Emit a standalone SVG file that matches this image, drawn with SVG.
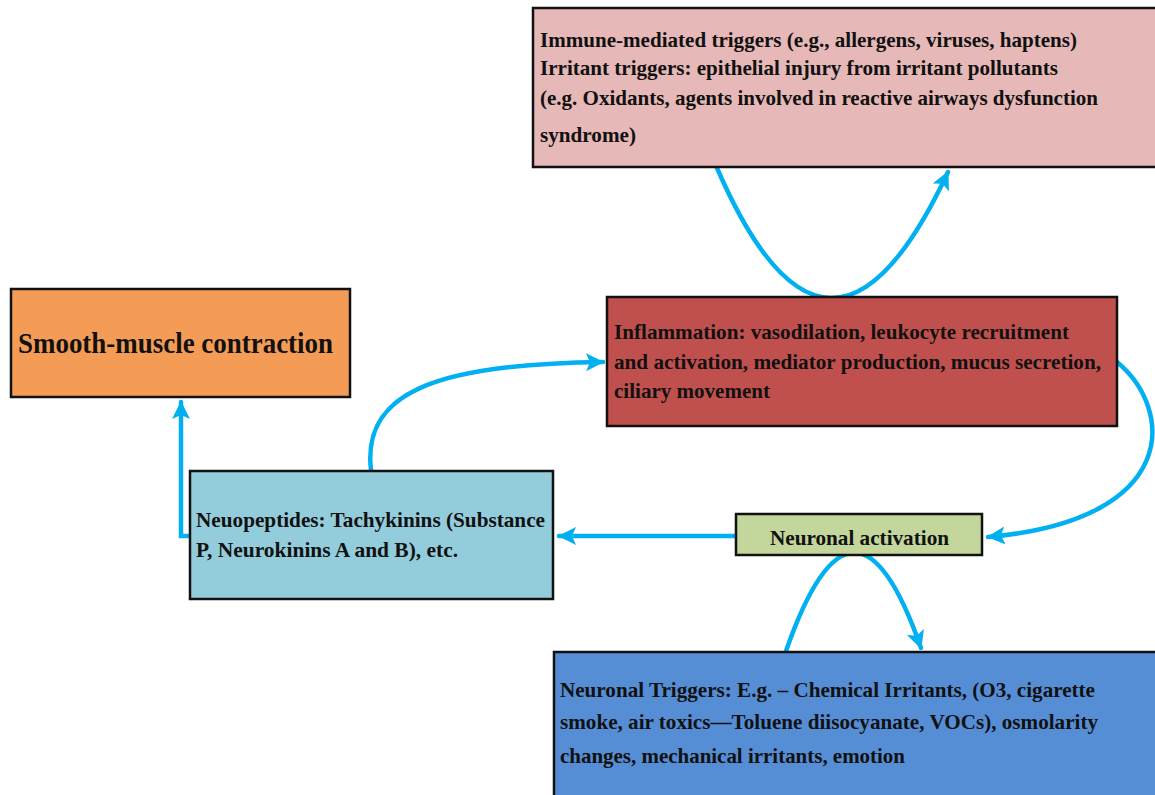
<svg xmlns="http://www.w3.org/2000/svg" width="1155" height="795" viewBox="0 0 1155 795">
<style>
.box{stroke:#111;stroke-width:2.5}
.t{font-family:"Liberation Serif","Times New Roman",serif;font-weight:bold;font-size:22px;fill:#111}
.big{font-size:30px}
.c{fill:none;stroke:#00B0F0;stroke-width:4.5;stroke-linecap:round}
</style>
<defs>
<marker id="ah" markerUnits="userSpaceOnUse" markerWidth="22" markerHeight="22" refX="17" refY="9" orient="auto">
<path d="M0,0 L18,9 L0,18 L4,9 Z" fill="#00B0F0"/>
</marker>
</defs>
<rect width="1155" height="795" fill="#FFFFFF"/>
<g id="connectors">
<path class="c" d="M717,168 Q829,426 948,172" marker-end="url(#ah)"/>
<path class="c" d="M371,470 C362,395 430,364 603,362" marker-end="url(#ah)"/>
<path class="c" d="M1117,362 C1175,410 1180,520 988,537" marker-end="url(#ah)"/>
<path class="c" d="M736,536 L559,536" marker-end="url(#ah)"/>
<path class="c" d="M190,536 L181,536 L181,402" marker-end="url(#ah)"/>
<path class="c" d="M786,651 Q854,456 921,648" marker-end="url(#ah)"/>
</g>
<g id="immune-triggers">
<rect class="box" x="533" y="8" width="640" height="159" fill="#E6B8B7"/>
<text class="t" x="540" y="47" textLength="537" lengthAdjust="spacingAndGlyphs">Immune-mediated triggers (e.g., allergens, viruses, haptens)</text>
<text class="t" x="540" y="75" textLength="518" lengthAdjust="spacingAndGlyphs">Irritant triggers: epithelial injury from irritant pollutants</text>
<text class="t" x="540" y="105" textLength="558" lengthAdjust="spacingAndGlyphs">(e.g. Oxidants, agents involved in reactive airways dysfunction</text>
<text class="t" x="540" y="142" textLength="96" lengthAdjust="spacingAndGlyphs">syndrome)</text>
</g>
<g id="smooth-muscle">
<rect class="box" x="11" y="289" width="339" height="108" fill="#F49C56"/>
<text class="t big" x="18" y="353" textLength="315" lengthAdjust="spacingAndGlyphs">Smooth-muscle contraction</text>
</g>
<g id="inflammation">
<rect class="box" x="607" y="297" width="510" height="129" fill="#C0504D"/>
<text class="t" x="614" y="339" textLength="455" lengthAdjust="spacingAndGlyphs">Inflammation: vasodilation, leukocyte recruitment</text>
<text class="t" x="614" y="369" textLength="487" lengthAdjust="spacingAndGlyphs">and activation, mediator production, mucus secretion,</text>
<text class="t" x="614" y="398" textLength="156" lengthAdjust="spacingAndGlyphs">ciliary movement</text>
</g>
<g id="neuropeptides">
<rect class="box" x="190" y="471" width="363" height="128" fill="#93CDDC"/>
<text class="t" x="196" y="527" textLength="349" lengthAdjust="spacingAndGlyphs">Neuopeptides: Tachykinins (Substance</text>
<text class="t" x="196" y="557" textLength="262" lengthAdjust="spacingAndGlyphs">P, Neurokinins A and B), etc.</text>
</g>
<g id="neuronal-activation">
<rect class="box" x="736" y="514" width="246" height="41" fill="#C3D69B"/>
<text class="t" x="770" y="545" textLength="179" lengthAdjust="spacingAndGlyphs">Neuronal activation</text>
</g>
<g id="neuronal-triggers">
<rect class="box" x="554" y="652" width="620" height="160" fill="#558ED5"/>
<text class="t" x="560" y="697" textLength="535" lengthAdjust="spacingAndGlyphs">Neuronal Triggers: E.g. – Chemical Irritants, (O3, cigarette</text>
<text class="t" x="560" y="729" textLength="538" lengthAdjust="spacingAndGlyphs">smoke, air toxics—Toluene diisocyanate, VOCs), osmolarity</text>
<text class="t" x="560" y="763" textLength="345" lengthAdjust="spacingAndGlyphs">changes, mechanical irritants, emotion</text>
</g>
</svg>
